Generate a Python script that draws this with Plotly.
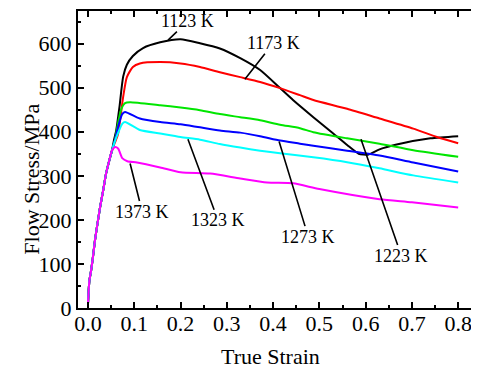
import plotly.graph_objects as go

# ---- data ----
rise_strain = [0.0, 0.003, 0.006, 0.01, 0.015, 0.02, 0.026, 0.033, 0.039, 0.046, 0.052]
rise_stress = [10, 62, 80, 110, 153, 188, 228, 268, 305, 335, 358]

k1123_strain = [0.056, 0.061, 0.068, 0.076, 0.084, 0.097, 0.119, 0.156, 0.2, 0.242, 0.285, 0.329,
                0.372, 0.415, 0.443, 0.487, 0.53, 0.56, 0.585, 0.605, 0.63, 0.667, 0.74, 0.8]
k1123_stress = [380, 403, 456, 525, 552, 572, 590, 603, 610, 601, 589, 567,
                540, 499, 472, 433, 396, 370, 350, 348, 360, 371, 385, 390]

k1173_strain = [0.058, 0.065, 0.076, 0.084, 0.097, 0.112, 0.156, 0.2, 0.242, 0.285, 0.329, 0.372, 0.415,
                0.458, 0.487, 0.56, 0.63, 0.703, 0.754, 0.8]
k1173_stress = [375, 395, 479, 524, 547, 555, 558, 555, 547, 535, 524, 513, 499,
                483, 472, 452, 430, 407, 388, 374]

k1223_strain = [0.058, 0.065, 0.072, 0.08, 0.091, 0.156, 0.2, 0.242, 0.285, 0.329, 0.372, 0.415, 0.458,
                0.487, 0.56, 0.63, 0.703, 0.8]
k1223_stress = [380, 420, 452, 465, 467, 460, 455, 449, 440, 433, 426, 416, 408,
                399, 385, 373, 358, 343]

k1273_strain = [0.058, 0.066, 0.074, 0.08, 0.112, 0.156, 0.2, 0.242, 0.285, 0.329, 0.372, 0.415,
                0.458, 0.487, 0.56, 0.63, 0.703, 0.8]
k1273_stress = [380, 415, 440, 445, 430, 422, 417, 410, 403, 398, 390, 380,
                373, 368, 357, 346, 330, 310]

k1323_strain = [0.058, 0.066, 0.074, 0.08, 0.112, 0.156, 0.2, 0.242, 0.285, 0.329, 0.372, 0.415, 0.487,
                0.56, 0.63, 0.703, 0.8]
k1323_stress = [378, 400, 418, 422, 404, 396, 388, 382, 372, 364, 357, 351, 342,
                331, 317, 301, 285]

k1373_strain = [0.058, 0.065, 0.074, 0.085, 0.106, 0.156, 0.2, 0.264, 0.329, 0.387, 0.443, 0.5,
                0.63, 0.7, 0.8]
k1373_stress = [365, 362, 340, 333, 330, 319, 308, 305, 294, 285, 283, 270,
                247, 240, 228]

series = [
    ("1123 K", k1123_strain, k1123_stress, "#000000"),
    ("1173 K", k1173_strain, k1173_stress, "#ff0000"),
    ("1223 K", k1223_strain, k1223_stress, "#00e600"),
    ("1273 K", k1273_strain, k1273_stress, "#0000ff"),
    ("1323 K", k1323_strain, k1323_stress, "#00ffff"),
    ("1373 K", k1373_strain, k1373_stress, "#ff00ff"),
]

# label text position and leader-line tip (data coords)
labels = [
    ("1123 K", 0.216, 651, 0.173, 608),
    ("1173 K", 0.400, 601, 0.339, 519),
    ("1373 K", 0.117, 219, 0.091, 328),
    ("1323 K", 0.281, 199, 0.216, 383),
    ("1273 K", 0.476, 162, 0.413, 378),
    ("1223 K", 0.677, 119, 0.590, 383),
]

FONT = "Liberation Serif, Times New Roman, serif"

# page has an 8px body margin; size the figure to fill the rest of the window
OFF = 8
W, H = 479 - OFF, 370 - OFF
L, T = 78 - OFF, 11 - OFF
B = H - (308.5 - OFF)

fig = go.Figure()
for name, sx, sy, col in series:
    fig.add_trace(go.Scatter(
        x=rise_strain + sx, y=rise_stress + sy, mode="lines", name=name,
        line=dict(color=col, width=2, shape="spline", smoothing=0.6),
        showlegend=False,
    ))

annotations = []
for text, tx, ty, px, py in labels:
    annotations.append(dict(
        x=px, y=py, ax=tx, ay=ty, xref="x", yref="y", axref="x", ayref="y",
        text=text, showarrow=True, arrowhead=0, arrowwidth=1.6, arrowcolor="black",
        font=dict(family=FONT, size=18, color="black"), borderpad=0,
    ))


def px_to_paper(xp, yp):
    xf, yf = xp - OFF, yp - OFF
    return (xf - L) / (W - L), (H - B - yf) / (H - T - B)


tx, ty = px_to_paper(270, 357)
annotations.append(dict(x=tx, y=ty, xref="paper", yref="paper", text="True Strain",
                        xanchor="center", yanchor="middle", showarrow=False,
                        font=dict(family=FONT, size=22, color="black")))
tx, ty = px_to_paper(32, 180)
annotations.append(dict(x=tx, y=ty, xref="paper", yref="paper", text="Flow Stress/MPa",
                        xanchor="center", yanchor="middle", textangle=-90, showarrow=False,
                        font=dict(family=FONT, size=22, color="black")))

fig.update_layout(
    width=W, height=H,
    margin=dict(l=L, r=0, t=T, b=B, pad=0),
    plot_bgcolor="white", paper_bgcolor="white",
    font=dict(family=FONT, size=22, color="black"),
    annotations=annotations,
    xaxis=dict(
        range=[-0.0216, 0.845], tickmode="linear", tick0=0, dtick=0.1, tickformat=".1f",
        ticks="inside", ticklen=6, tickwidth=1.5, tickcolor="black",
        minor=dict(dtick=0.05, ticks="inside", ticklen=3, tickwidth=1.5, tickcolor="black"),
        showline=True, linecolor="black", linewidth=2, mirror="ticks",
        showgrid=False, zeroline=False, ticklabelstandoff=-5,
        tickfont=dict(family=FONT, size=22),
    ),
    yaxis=dict(
        range=[0, 674], tickmode="linear", tick0=0, dtick=100,
        ticks="inside", ticklen=6, tickwidth=1.5, tickcolor="black",
        minor=dict(dtick=50, ticks="inside", ticklen=3, tickwidth=1.5, tickcolor="black"),
        showline=True, linecolor="black", linewidth=2,
        showgrid=False, zeroline=False,
        tickfont=dict(family=FONT, size=22),
    ),
)

fig.write_html("out.html")
